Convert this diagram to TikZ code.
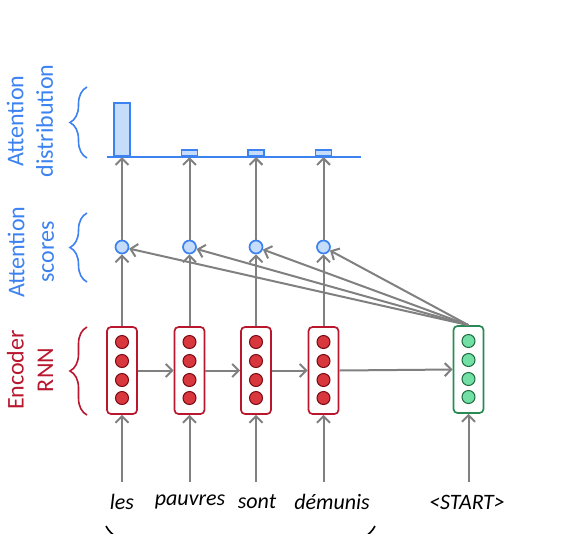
\documentclass[tikz,border=0pt]{standalone}
\usepackage{fontspec}
\setmainfont{Carlito}
\usetikzlibrary{arrows.meta,decorations.pathreplacing}
\definecolor{attblue}{HTML}{3C82F0}
\definecolor{attfill}{HTML}{C6DCFB}
\definecolor{encred}{HTML}{B8172E}
\definecolor{encfill}{HTML}{D7373D}
\definecolor{encdark}{HTML}{7A0A14}
\definecolor{decgreen}{HTML}{2A8A55}
\definecolor{decfill}{HTML}{72E0A4}
\definecolor{decdark}{HTML}{1E6B40}
\definecolor{arrgray}{HTML}{808080}
\tikzset{
  arr/.style={draw=arrgray, line width=2pt, -{Straight Barb[length=6.5pt,width=13pt]}},
  encbox/.style={draw=encred, line width=1.7pt, rounded corners=4pt, minimum width=30pt, minimum height=87pt, inner sep=0pt, fill=white},
  decbox/.style={encbox, draw=decgreen},
  encdot/.style={circle, draw=encdark, line width=1pt, fill=encfill, minimum size=13pt, inner sep=0pt},
  decdot/.style={encdot, draw=decdark, fill=decfill},
  scoredot/.style={circle, draw=attblue, line width=1.7pt, fill=attfill, minimum size=13pt, inner sep=0pt},
  bar/.style={draw=attblue, line width=1.6pt, fill=attfill, minimum width=16pt, inner sep=0pt, anchor=south},
  lbl/.style={rotate=90, align=center, font=\fontsize{24}{29.5}\selectfont},
  word/.style={font=\fontsize{22}{26}\selectfont\itshape, inner sep=0pt},
  brc/.style={decorate, decoration={brace, amplitude=17pt}, line width=1.6pt},
}
\begin{document}
\begin{tikzpicture}[x=1pt,y=-1pt]
\useasboundingbox (0,0) rectangle (567,533);
% baseline of attention distribution
\coordinate (bl) at (107,157);
\coordinate (br) at (361,157);
\draw[attblue, line width=1.8pt] (bl) -- (br);
% columns
\foreach \i/\x/\h/\w/\wx in {1/122/53/les/122, 2/189.5/6/pauvres/190, 3/256/6/sont/257, 4/323.5/6/démunis/332}{
  \node[encbox] (e\i) at (\x,370.5) {};
  \foreach \k/\y in {1/342,2/361,3/380,4/398}{
    \node[encdot] (e\i c\k) at (\x,\y) {};
  }
  \node[scoredot] (s\i) at (\x,247) {};
  \node[bar, minimum height=\h pt] (b\i) at (\x,157) {};
  \coordinate (in\i) at (\x,482);
  \node[word] (w\i) at (\wx,502) {\w};
  \draw[arr] (in\i) -- (e\i.south);
  \draw[arr] (e\i.north) -- (s\i.south);
  \draw[arr] (s\i.north) -- (b\i.south);
}
% decoder
\node[decbox] (d) at (468.5,369.5) {};
\foreach \k/\y in {1/341,2/360,3/379,4/397}{
  \node[decdot] (dc\k) at (468.5,\y) {};
}
\coordinate (in5) at (468.5,482);
\node[word] (w5) at (467,502) {<START>};
\draw[arr] (in5) -- (d.south);
% recurrent arrows
\draw[arr] (e1.east) -- (e2.west);
\draw[arr] (e2.east) -- (e3.west);
\draw[arr] (e3.east) -- (e4.west);
\draw[arr] (e4.east) -- (d.west);
% decoder to scores
\foreach \i in {1,...,4}{
  \draw[arr] (d.north) -- (s\i);
}
% left labels
\node[lbl, text=attblue] (ld) at (30,121) {Attention\\distribution};
\node[lbl, text=attblue] (ls) at (31,252) {Attention\\scores};
\node[lbl, text=encred] (le) at (30,370) {Encoder\\RNN};
\draw[brc, attblue] (87,158) -- (87,87);
\draw[brc, attblue] (87,282) -- (87,213);
\draw[brc, encred] (87,415) -- (87,327);
% bottom brace (cut off by the frame)
\begin{scope}
\clip (0,0) rectangle (567,533);
\draw[brc, black, decoration={amplitude=32pt}] (375,526) -- (106,526);
\end{scope}
\end{tikzpicture}
\end{document}
